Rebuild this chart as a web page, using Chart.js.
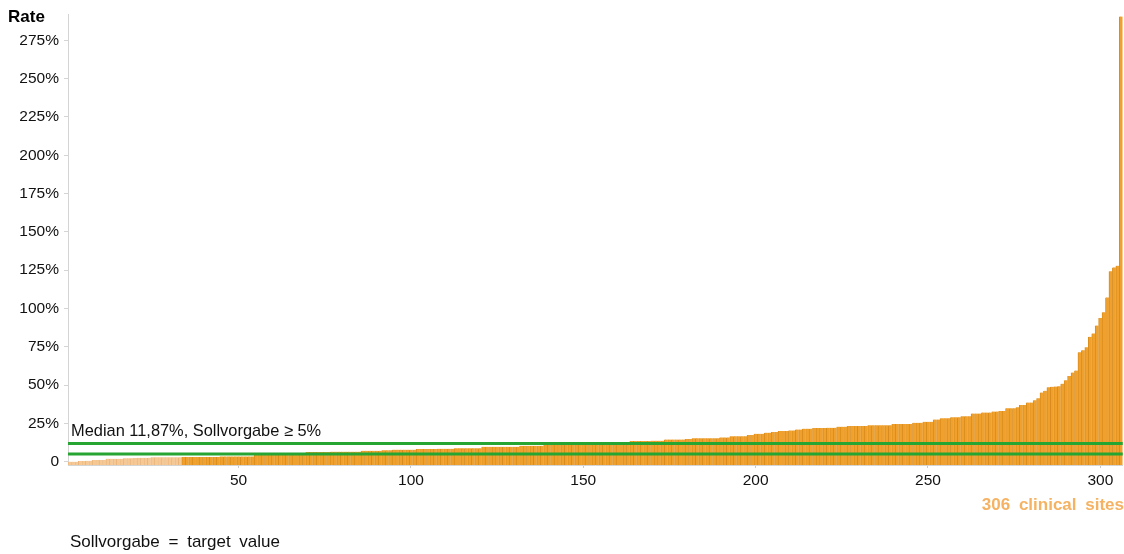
<!DOCTYPE html>
<html>
<head>
<meta charset="utf-8">
<title>Rate per clinical site</title>
<script src="https://cdn.jsdelivr.net/npm/chart.js@4/dist/chart.umd.min.js"></script>
<style>
    html, body { margin: 0; padding: 0; background: #ffffff; }
    #wrap { position: relative; width: 1124px; height: 554px; }
</style>
</head>
<body>
<div id="wrap"><canvas id="rate-chart"></canvas></div>
<script>
// Rate per site (%), sorted ascending, 306 clinical sites
const siteRates = [
    0, 0, 0, 0.4, 0.4, 0.5, 0.5, 1.0, 1.0, 1.0,
    1.1, 1.8, 1.8, 1.8, 1.9, 1.9, 2.2, 2.2, 2.2, 2.3,
    2.5, 2.5, 2.5, 2.6, 2.8, 2.8, 2.8, 2.8, 2.8, 2.8,
    2.8, 2.8, 2.8, 3.0, 3.0, 3.0, 3.0, 3.0, 3.0, 3.0,
    3.0, 3.0, 3.0, 3.0, 3.4, 3.4, 3.4, 3.4, 3.4, 3.4,
    3.4, 3.4, 3.4, 3.4, 5.6, 5.6, 5.6, 5.6, 5.6, 5.6,
    5.6, 5.6, 5.6, 5.6, 5.6, 5.6, 5.6, 5.6, 5.6, 6.3,
    6.3, 6.3, 6.3, 6.3, 6.3, 6.3, 6.5, 6.5, 6.5, 6.5,
    6.5, 6.5, 6.5, 6.5, 6.5, 7.1, 7.1, 7.1, 7.1, 7.1,
    7.1, 7.5, 7.5, 7.5, 7.8, 7.8, 7.8, 7.8, 7.8, 7.8,
    7.8, 8.2, 8.2, 8.2, 8.2, 8.2, 8.2, 8.4, 8.4, 8.4,
    8.4, 8.4, 8.8, 8.8, 8.8, 8.8, 8.8, 8.8, 8.8, 8.8,
    9.7, 9.7, 9.7, 9.7, 9.7, 9.7, 9.7, 9.7, 9.7, 9.7,
    9.7, 10.3, 10.3, 10.3, 10.3, 10.3, 10.3, 10.3, 10.8, 10.8,
    10.8, 10.8, 10.8, 10.8, 10.8, 10.8, 10.8, 10.8, 10.8, 10.8,
    11.2, 11.2, 11.2, 11.2, 11.2, 11.2, 11.2, 11.2, 11.2, 11.2,
    11.2, 12.8, 12.8, 13.4, 13.4, 13.4, 13.4, 13.4, 13.4, 13.7,
    13.7, 13.7, 13.7, 14.4, 14.4, 14.4, 14.4, 14.4, 14.4, 14.7,
    14.7, 15.3, 15.3, 15.3, 15.3, 15.3, 15.3, 15.3, 15.3, 15.8,
    15.8, 15.8, 16.5, 16.5, 16.5, 16.5, 16.5, 17.4, 17.4, 18.2,
    18.2, 18.2, 18.9, 18.9, 19.3, 19.3, 20.0, 20.0, 20.0, 20.4,
    20.4, 21.0, 21.0, 21.5, 21.5, 21.5, 21.9, 21.9, 21.9, 21.9,
    22.1, 22.1, 22.1, 22.8, 22.8, 22.8, 23.3, 23.3, 23.3, 23.3,
    23.3, 23.3, 23.7, 23.7, 23.7, 23.7, 23.7, 23.7, 23.7, 24.5,
    24.5, 24.5, 24.5, 24.5, 24.5, 25.4, 25.4, 25.4, 26.0, 26.0,
    26.0, 27.5, 27.5, 28.3, 28.3, 28.3, 29.0, 29.0, 29.0, 29.6,
    29.6, 29.6, 31.4, 31.4, 31.4, 32.0, 32.0, 32.0, 32.7, 32.7,
    33.1, 33.1, 34.9, 34.9, 34.9, 35.5, 37.0, 37.0, 38.6, 38.6,
    40.1, 41.3, 45.1, 46.2, 48.6, 48.8, 49.0, 49.2, 50.9, 53.1,
    55.9, 58.1, 59.5, 71.4, 72.7, 74.6, 81.5, 83.7, 88.8, 93.8,
    97.5, 107.2, 124.2, 126.8, 127.9, 290.5
];
const siteNumbers = Array.from({ length: siteRates.length }, (_, i) => i + 1);
const xTickLabels = [50, 100, 150, 200, 250, 300];
const lightSiteCount = 33; // first sites drawn in the pale tone

const medianValue = 11.87;
const targetValue = 5;
const medianText = 'Median 11,87%, Sollvorgabe \u2265 5%';
const yTitle = 'Rate';
const siteCountText = '306 clinical sites';
const footnoteText = 'Sollvorgabe = target value';

const FONT = '"Liberation Sans", Arial, sans-serif';
const GREEN = '#26a532';

const barColors = siteNumbers.map(n => n <= lightSiteCount ? '#f6c893' : '#f0a02c');
const barBorders = siteNumbers.map(n => n <= lightSiteCount ? '#e9b57c' : '#d98c1c');

// reference lines + free texts
const overlayPlugin = {
    id: 'overlay',
    afterDatasetsDraw(chart) {
        const { ctx, chartArea, scales } = chart;
        ctx.save();
        ctx.strokeStyle = GREEN;
        ctx.lineWidth = 3;
        [medianValue, targetValue].forEach(v => {
            const py = scales.y.getPixelForValue(v);
            ctx.beginPath();
            ctx.moveTo(chartArea.left, py);
            ctx.lineTo(chartArea.right, py);
            ctx.stroke();
        });
        ctx.fillStyle = '#111111';
        ctx.font = '16.4px ' + FONT;
        ctx.textAlign = 'left';
        ctx.textBaseline = 'alphabetic';
        ctx.fillText(medianText, 71, 436);
        ctx.restore();
    },
    afterDraw(chart) {
        const { ctx } = chart;
        ctx.save();
        ctx.textBaseline = 'alphabetic';
        ctx.fillStyle = '#000000';
        ctx.font = 'bold 17px ' + FONT;
        ctx.textAlign = 'left';
        ctx.fillText(yTitle, 8, 22);

        ctx.fillStyle = '#f5b262';
        ctx.font = 'bold 17px ' + FONT;
        ctx.wordSpacing = '4px';
        ctx.textAlign = 'right';
        ctx.fillText(siteCountText, 1124, 510);

        ctx.fillStyle = '#111111';
        ctx.font = '17px ' + FONT;
        ctx.wordSpacing = '4px';
        ctx.textAlign = 'left';
        ctx.fillText(footnoteText, 70, 547);
        ctx.restore();
    }
};

const chart = new Chart(document.getElementById('rate-chart'), {
    type: 'bar',
    data: {
        labels: siteNumbers,
        datasets: [{
            data: siteRates,
            base: -2.2,
            backgroundColor: barColors,
            borderColor: barBorders,
            borderWidth: { left: 1, right: 0, top: 0, bottom: 0 },
            borderSkipped: false,
            barPercentage: 1,
            categoryPercentage: 1
        }]
    },
    options: {
        responsive: true,
        maintainAspectRatio: false,
        animation: false,
        layout: { padding: { top: 13, right: 0, left: 0, bottom: 0 } },
        plugins: {
            legend: { display: false },
            tooltip: { enabled: false }
        },
        scales: {
            x: {
                type: 'category',
                offset: true,
                afterFit: scale => { scale.height = 89; },
                border: { display: true, color: '#d4d4d4', width: 1 },
                grid: {
                    offset: false,
                    drawOnChartArea: false,
                    drawTicks: true,
                    tickLength: 3,
                    color: ctx => xTickLabels.includes(siteNumbers[ctx.index]) ? '#c8c8c8' : 'rgba(0,0,0,0)'
                },
                ticks: {
                    autoSkip: false,
                    maxRotation: 0,
                    minRotation: 0,
                    padding: 3,
                    color: '#111111',
                    font: { family: FONT, size: 15.5 },
                    callback: (value, index) => xTickLabels.includes(siteNumbers[index]) ? String(siteNumbers[index]) : ''
                }
            },
            y: {
                min: -2.2,
                max: 292,
                afterFit: scale => { scale.width = 68; },
                border: { display: true, color: '#d4d4d4', width: 1 },
                grid: {
                    drawOnChartArea: false,
                    drawTicks: true,
                    tickLength: 4,
                    color: '#d4d4d4'
                },
                ticks: {
                    stepSize: 25,
                    includeBounds: false,
                    padding: 5,
                    color: '#111111',
                    font: { family: FONT, size: 15.5 },
                    callback: v => v === 0 ? '0' : v + '%'
                }
            }
        }
    },
    plugins: [overlayPlugin]
});
</script>
</body>
</html>
